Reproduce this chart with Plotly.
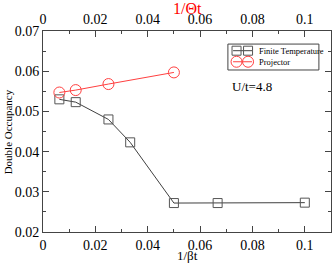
import plotly.graph_objects as go

ft_x = [0.00625, 0.0125, 0.025, 0.0333, 0.05, 0.0667, 0.1]
ft_y = [0.0530, 0.0523, 0.0480, 0.0423, 0.0272, 0.0272, 0.0273]
pj_x = [0.00625, 0.0125, 0.025, 0.05]
pj_y = [0.0547, 0.0553, 0.0568, 0.0597]
tick_vals = [0, 0.02, 0.04, 0.06, 0.08, 0.1]
tick_text = ["0", "0.02", "0.04", "0.06", "0.08", "0.1"]
y_vals = [0.02, 0.03, 0.04, 0.05, 0.06, 0.07]
y_text = ["0.02", "0.03", "0.04", "0.05", "0.06", "0.07"]
legend_names = ["Finite Temperature", "Projector"]

FONT = "Liberation Serif"
GRAY = "#404040"
RED = "#ff4040"

fig = go.Figure()
fig.add_trace(go.Scatter(
    x=ft_x, y=ft_y, mode="lines+markers", name=legend_names[0],
    line=dict(color=GRAY, width=1),
    marker=dict(symbol="square-open", size=9, color="#555555", line=dict(width=1)),
))
fig.add_trace(go.Scatter(
    x=pj_x, y=pj_y, mode="lines+markers", name=legend_names[1], xaxis="x2",
    line=dict(color=RED, width=1),
    marker=dict(symbol="circle-open", size=11, color=RED, line=dict(width=1)),
))

axis_common = dict(
    range=[0, 0.11], showgrid=False, zeroline=False,
    linecolor="#444444", linewidth=1,
    ticks="inside", ticklen=6, tickcolor="#444444",
    tickvals=tick_vals, ticktext=tick_text,
    tickfont=dict(family=FONT, size=14, color="black"),
    minor=dict(ticks="inside", ticklen=3, dtick=0.01, tick0=0, tickcolor="#444444"),
    automargin=False,
)

# manual legend (paper coordinates)
lx0, lx1, ly0, ly1 = 0.642, 0.958, 0.806, 0.935
rows = [0.902, 0.847]
seg = (0.660, 0.726)
mk = (0.672, 0.712)
text_x = 0.743

shapes = [dict(type="rect", xref="paper", yref="paper", x0=lx0, x1=lx1, y0=ly0, y1=ly1,
               line=dict(color="#444444", width=1), fillcolor="white")]
for i, (ry, col) in enumerate(zip(rows, [GRAY, RED])):
    shapes.append(dict(type="line", xref="paper", yref="paper", x0=seg[0], x1=seg[1],
                       y0=ry, y1=ry, line=dict(color=col, width=1)))
    for mx in mk:
        if i == 0:
            shapes.append(dict(type="rect", xref="paper", yref="paper",
                               xsizemode="pixel", ysizemode="pixel", xanchor=mx, yanchor=ry,
                               x0=-4.5, x1=4.5, y0=-4.5, y1=4.5,
                               line=dict(color="#555555", width=1), fillcolor="rgba(0,0,0,0)"))
        else:
            shapes.append(dict(type="circle", xref="paper", yref="paper",
                               xsizemode="pixel", ysizemode="pixel", xanchor=mx, yanchor=ry,
                               x0=-5.5, x1=5.5, y0=-5.5, y1=5.5,
                               line=dict(color=RED, width=1), fillcolor="rgba(0,0,0,0)"))

annotations = [
    dict(x=0.0797, y=0.0563, xref="x", yref="y", text="U/t=4.8",
         showarrow=False, font=dict(family=FONT, size=13)),
    dict(x=0.503, y=-0.117, xref="paper", yref="paper", text="1/βt",
         xanchor="center", yanchor="middle",
         showarrow=False, font=dict(family=FONT, size=13)),
    dict(x=0.5, y=1.112, xref="paper", yref="paper", text="1/Θt",
         xanchor="center", yanchor="middle",
         showarrow=False, font=dict(family=FONT, size=16, color="red")),
    dict(x=-0.122, y=0.5, xref="paper", yref="paper", text="Double Occupancy",
         xanchor="center", yanchor="middle",
         textangle=-90, showarrow=False, font=dict(family=FONT, size=11)),
]
for ry, name in zip(rows, legend_names):
    annotations.append(dict(x=text_x, y=ry, xref="paper", yref="paper", text=name,
                            xanchor="left", yanchor="middle", showarrow=False,
                            font=dict(family=FONT, size=8.5)))

fig.update_layout(
    width=332, height=265,
    margin=dict(l=43, r=1, t=31, b=33),
    paper_bgcolor="white", plot_bgcolor="white",
    font=dict(family=FONT, color="black"),
    xaxis=dict(**axis_common, mirror=True),
    xaxis2=dict(**axis_common, overlaying="x", side="top"),
    yaxis=dict(range=[0.02, 0.07], showgrid=False, zeroline=False,
               linecolor="#444444", linewidth=1, mirror="ticks",
               ticks="inside", ticklen=6, tickcolor="#444444",
               tickvals=y_vals, ticktext=y_text,
               tickfont=dict(family=FONT, size=14, color="black"),
               minor=dict(ticks="inside", ticklen=3, dtick=0.005, tick0=0.02, tickcolor="#444444"),
               automargin=False),
    showlegend=False,
    shapes=shapes,
    annotations=annotations,
)

fig.write_html("out.html", config={"displayModeBar": False},
               post_script=["document.body.style.margin='0';document.body.style.overflow='hidden';"])
